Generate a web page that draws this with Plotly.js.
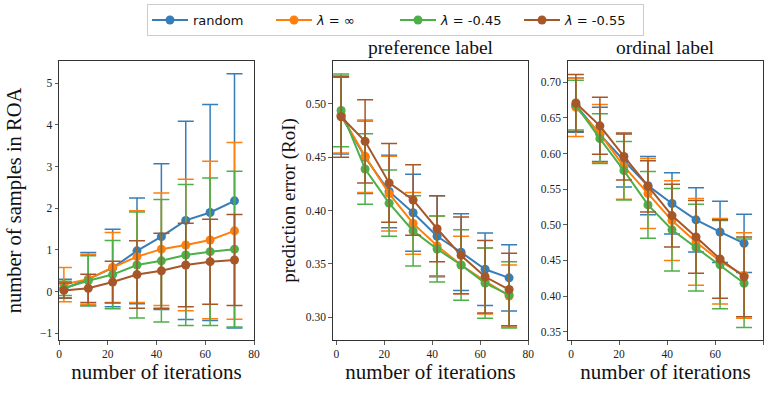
<!DOCTYPE html>
<html>
<head>
<meta charset="utf-8">
<script src="https://cdn.plot.ly/plotly-3.0.1.min.js"></script>
<style>html,body{margin:0;padding:0;background:#fff;}#chart{width:767px;height:393px;}</style>
</head>
<body>
<div id="chart"></div>
<script>
const iterations = [2, 12, 22, 32, 42, 52, 62, 72];
const seriesNames = ['random', '<i>λ</i> = ∞', '<i>λ</i> = -0.45', '<i>λ</i> = -0.55'];
const seriesColors = ['#377eb8', '#ff7f0e', '#4daf4a', '#a65628'];

// Panel 1: number of samples in ROA (mean, std)
const roaMean = [
  [0.07, 0.30, 0.57, 0.98, 1.32, 1.71, 1.90, 2.18],
  [0.17, 0.30, 0.58, 0.84, 1.02, 1.12, 1.24, 1.46],
  [0.08, 0.26, 0.41, 0.64, 0.74, 0.88, 0.96, 1.02],
  [0.03, 0.08, 0.23, 0.41, 0.50, 0.64, 0.72, 0.76]
];
const roaStd = [
  [0.23, 0.64, 0.93, 1.27, 1.75, 2.38, 2.59, 3.05],
  [0.41, 0.60, 0.84, 1.10, 1.35, 1.58, 1.89, 2.12],
  [0.17, 0.60, 0.82, 1.27, 1.47, 1.69, 1.77, 1.87],
  [0.18, 0.34, 0.50, 0.81, 0.90, 1.00, 1.02, 1.09]
];

// Panel 2: preference label prediction error (mean, std)
const prefMean = [
  [0.489, 0.450, 0.418, 0.398, 0.376, 0.361, 0.345, 0.337],
  [0.490, 0.451, 0.416, 0.388, 0.367, 0.349, 0.334, 0.320],
  [0.494, 0.439, 0.407, 0.381, 0.364, 0.349, 0.332, 0.321],
  [0.488, 0.465, 0.426, 0.410, 0.383, 0.358, 0.338, 0.326]
];
const prefStd = [
  [0.036, 0.034, 0.034, 0.036, 0.038, 0.036, 0.034, 0.031],
  [0.036, 0.034, 0.035, 0.029, 0.028, 0.027, 0.031, 0.029],
  [0.034, 0.033, 0.031, 0.033, 0.031, 0.033, 0.033, 0.031],
  [0.038, 0.039, 0.037, 0.033, 0.031, 0.036, 0.034, 0.034]
];

// Panel 3: ordinal label prediction error (mean, std)
const ordMean = [
  [0.668, 0.627, 0.590, 0.555, 0.530, 0.507, 0.490, 0.474],
  [0.665, 0.628, 0.582, 0.544, 0.506, 0.476, 0.449, 0.429],
  [0.668, 0.621, 0.576, 0.528, 0.493, 0.468, 0.444, 0.418],
  [0.671, 0.639, 0.596, 0.554, 0.513, 0.483, 0.452, 0.427]
];
const ordStd = [
  [0.038, 0.038, 0.037, 0.041, 0.043, 0.045, 0.043, 0.041],
  [0.041, 0.041, 0.046, 0.049, 0.056, 0.061, 0.060, 0.060],
  [0.035, 0.035, 0.041, 0.047, 0.058, 0.061, 0.062, 0.062],
  [0.040, 0.040, 0.033, 0.036, 0.044, 0.051, 0.055, 0.056]
];

const panelTitles = ['', 'preference label', 'ordinal label'];
const xTitle = 'number of iterations';
const yTitles = ['number of samples in ROA', 'prediction error (RoI)', ''];

const panels = [
  {mean: roaMean, std: roaStd, xa: 'x', ya: 'y'},
  {mean: prefMean, std: prefStd, xa: 'x2', ya: 'y2'},
  {mean: ordMean, std: ordStd, xa: 'x3', ya: 'y3'}
];

const traces = [];
panels.forEach((p, pi) => {
  for (let s = 0; s < seriesNames.length; s++) {
    traces.push({
      type: 'scatter', mode: 'lines+markers',
      x: iterations, y: p.mean[s],
      name: seriesNames[s], legendgroup: 'g' + s,
      showlegend: pi === 0,
      xaxis: p.xa, yaxis: p.ya,
      line: {color: seriesColors[s], width: 2},
      marker: {color: seriesColors[s], size: 9},
      error_y: {type: 'data', array: p.std[s], visible: true, color: seriesColors[s], thickness: 1.5, width: 8}
    });
  }
});

const serif = '"Liberation Serif", serif';
const axisCommon = {
  showline: true, mirror: true, linecolor: '#333', linewidth: 1,
  ticks: 'outside', ticklen: 3.5, tickwidth: 0.8, tickcolor: '#333',
  showgrid: false, zeroline: false,
  tickfont: {family: serif, size: 11.5, color: '#222'}
};
const H = 393, W = 767;
const yDom = [1 - 340 / H, 1 - 61 / H];
const xDoms = [[59 / W, 254 / W], [332.7 / W, 528.3 / W], [567.7 / W, 763.3 / W]];

function xAxis(i, range) {
  return Object.assign({}, axisCommon, {
    domain: xDoms[i], range: range, tickvals: [0, 20, 40, 60, 80], anchor: i === 0 ? 'y' : 'y' + (i + 1),
    title: {text: xTitle, font: {family: serif, size: 21, color: '#111'}, standoff: 3}
  });
}

const layout = {
  width: W, height: H,
  margin: {l: 0, r: 0, t: 0, b: 0},
  paper_bgcolor: '#fff', plot_bgcolor: '#fff',
  showlegend: true,
  legend: {
    orientation: 'h', x: 395.5 / W, xanchor: 'center', y: 1 - 4 / H, yanchor: 'top',
    bgcolor: '#fff', bordercolor: '#ccc', borderwidth: 1,
    itemwidth: 36, entrywidth: 73, entrywidthmode: 'pixels',
    font: {family: 'DejaVu Sans, sans-serif', size: 13, color: '#111'}
  },
  xaxis: xAxis(0, [0, 80]),
  xaxis2: xAxis(1, [-1.5, 80]),
  xaxis3: xAxis(2, [-1.4, 80]),
  yaxis: Object.assign({}, axisCommon, {
    domain: yDom, anchor: 'x', range: [-1.16, 5.535], tickvals: [-1, 0, 1, 2, 3, 4, 5],
    title: {text: yTitles[0], font: {family: serif, size: 20.5, color: '#111'}, standoff: 12}
  }),
  yaxis2: Object.assign({}, axisCommon, {
    domain: yDom, anchor: 'x2', range: [0.2787, 0.5403], tickvals: [0.30, 0.35, 0.40, 0.45, 0.50], tickformat: '.2f',
    title: {text: yTitles[1], font: {family: serif, size: 19, color: '#111'}, standoff: 5}
  }),
  yaxis3: Object.assign({}, axisCommon, {
    domain: yDom, anchor: 'x3', range: [0.3383, 0.730], tickvals: [0.35, 0.40, 0.45, 0.50, 0.55, 0.60, 0.65, 0.70], tickformat: '.2f'
  }),
  annotations: [1, 2].map(i => ({
    text: panelTitles[i], xref: 'paper', yref: 'paper',
    x: (xDoms[i][0] + xDoms[i][1]) / 2, xanchor: 'center',
    y: yDom[1], yanchor: 'bottom', yshift: 1, showarrow: false,
    font: {family: serif, size: 19.5, color: '#111'}
  }))
};

Plotly.newPlot('chart', traces, layout, {displayModeBar: false, staticPlot: true});
</script>
</body>
</html>
